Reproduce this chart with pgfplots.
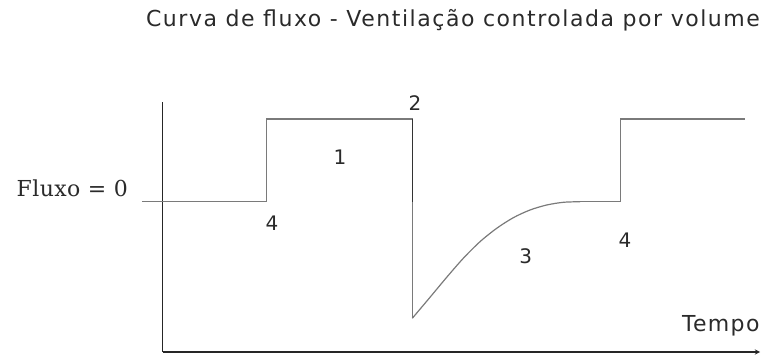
\documentclass[border=0pt]{standalone}
\usepackage{fontspec}
\setmainfont{DejaVu Sans}
\newfontfamily\serifname{DejaVu Serif}
\usepackage{pgfplots}
\pgfplotsset{compat=1.18}
\definecolor{txt}{HTML}{2A2A2A}
\definecolor{curve}{HTML}{7A7A7A}

\begin{document}
\begin{tikzpicture}
\begin{axis}[
  scale only axis,
  width=597.3pt, height=250pt,
  xmin=0, xmax=597.3,
  ymin=-150.3, ymax=99.7,
  axis lines=left,
  x axis line style={-stealth, line width=1.3pt, color=black!85},
  y axis line style={-, line width=1.3pt, color=black!85},
  xtick=\empty, ytick=\empty,
  clip=false,
]
% fluxo: fase 4 -> 1 -> 2 -> 3 -> 4
\addplot[curve, line width=1.2pt] coordinates {
  (-20.7,0) (104,0) (104,82.7) (249.6,82.7) (249.6,-116.6)
};
\addplot[curve, line width=1.2pt, smooth, tension=0.5] coordinates {
  (249.6,-116.6) (267.3,-95.6) (284,-75.6) (300.6,-56.6) (317.3,-40)
  (334,-26.6) (350.6,-16) (367.3,-8.3) (384,-3.3) (400.6,-0.6) (417.3,0)
};
\addplot[curve, line width=1.2pt] coordinates {
  (417.3,0) (458,0) (458,82.7) (582.3,82.7)
};
\addplot[black!80, line width=1.2pt] coordinates {(249.6,82.7) (249.6,0)};

\node[txt, font=\fontsize{22}{26}\selectfont\addfontfeature{LetterSpace=7}]
  at (axis cs:290.3,181.7)
  {Curva de fluxo - Ventilação controlada por volume};
\node[txt, anchor=base east, inner sep=0pt,
  font=\serifname\fontsize{22}{26}\selectfont\addfontfeature{LetterSpace=2}]
  at (axis cs:-34.7,5) {Fluxo = 0};
\node[txt, font=\fontsize{20}{24}\selectfont] at (axis cs:109.3,-21.3) {4};
\node[txt, font=\fontsize{20}{24}\selectfont] at (axis cs:177.3,44.7) {1};
\node[txt, font=\fontsize{20}{24}\selectfont] at (axis cs:252.3,98.7) {2};
\node[txt, font=\fontsize{20}{24}\selectfont] at (axis cs:363,-55) {3};
\node[txt, font=\fontsize{20}{24}\selectfont] at (axis cs:462.3,-38.3) {4};
\node[txt, anchor=base, inner sep=0pt,
  font=\fontsize{22}{26}\selectfont\addfontfeature{LetterSpace=6}]
  at (axis cs:558.1,-130) {Tempo};
\end{axis}
\pgfresetboundingbox
\useasboundingbox (-162.7pt,-2pt) rectangle (608.3pt,352pt);
\end{tikzpicture}
\end{document}
